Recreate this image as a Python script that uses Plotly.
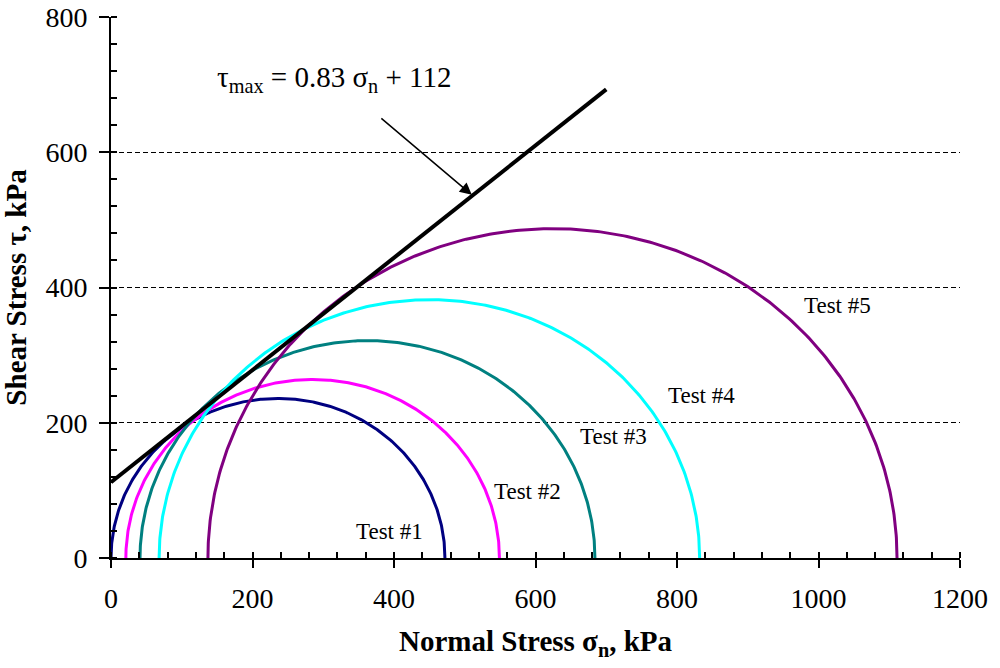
import numpy as np
import plotly.graph_objects as go

# Mohr circle data: minor and major principal stresses (kPa) for each test
tests = ["Test #1", "Test #2", "Test #3", "Test #4", "Test #5"]
sigma3 = [0, 21, 41, 68, 137]
sigma1 = [472, 549, 684, 832, 1111]
colors = ["#000080", "#FF00FF", "#008080", "#00FFFF", "#800080"]

# Failure envelope: tau_max = slope * sigma_n + intercept
slope = 0.83
intercept = 112
envelope_sigma = [0, 700]

FONT = "Liberation Serif, Times New Roman, serif"

fig = go.Figure()

theta = np.linspace(0, np.pi, 361)
for name, s3, s1, col in zip(tests, sigma3, sigma1, colors):
    c = (s1 + s3) / 2
    r = (s1 - s3) / 2
    fig.add_trace(go.Scatter(
        x=c + r * np.cos(theta), y=r * np.sin(theta),
        mode="lines", line=dict(color=col, width=3),
        name=name, showlegend=False, hoverinfo="skip",
    ))

env_x = np.array(envelope_sigma, dtype=float)
fig.add_trace(go.Scatter(
    x=env_x, y=slope * env_x + intercept,
    mode="lines", line=dict(color="black", width=4),
    showlegend=False, hoverinfo="skip",
))

# Circle labels
label_pos = [(394, 39), (589, 98), (710, 179), (834, 241), (1027, 374)]
for name, (lx, ly) in zip(tests, label_pos):
    fig.add_annotation(x=lx, y=ly, text=name, showarrow=False,
                       font=dict(family=FONT, size=23, color="black"),
                       xanchor="center", yanchor="middle")

# Envelope equation and pointer arrow
fig.add_annotation(
    x=147, y=709, xanchor="left", yanchor="middle", showarrow=False,
    text="τ<sub>max</sub> = 0.83 σ<sub>n</sub> + 112",
    font=dict(family=FONT, size=29, color="black"),
)
fig.add_annotation(
    x=510, y=537, ax=380, ay=652, axref="x", ayref="y", xref="x", yref="y",
    text="", showarrow=True, arrowhead=2, arrowsize=1.6, arrowwidth=1.5,
    arrowcolor="black",
)

tickfont = dict(family=FONT, size=28, color="black")

fig.update_layout(
    width=1000, height=668,
    margin=dict(l=111, r=40, t=17, b=110, autoexpand=False),
    paper_bgcolor="white", plot_bgcolor="white",
    font=dict(family=FONT, color="black"),
    showlegend=False,
    xaxis=dict(
        range=[0, 1200], dtick=200, tick0=0, automargin=False,
        ticks="outside", ticklen=8, tickwidth=2, tickcolor="black",
        showline=True, linewidth=2, linecolor="black",
        showgrid=False, zeroline=False,
        tickfont=tickfont, ticklabelstandoff=6,
        minor=dict(dtick=40, ticks="inside", ticklen=6, tickwidth=2,
                   tickcolor="black", showgrid=False),
        title=dict(text="<b>Normal Stress σ<sub>n</sub>, kPa</b>",
                   font=dict(family=FONT, size=29, color="black"),
                   standoff=18),
    ),
    xaxis2=dict(
        range=[0, 1200], dtick=200, tick0=0, overlaying="x", anchor="y",
        side="bottom", ticks="inside", ticklen=7, tickwidth=2,
        tickcolor="black", showticklabels=False, showgrid=False,
        zeroline=False, showline=False,
    ),
    yaxis=dict(
        range=[0, 800], dtick=200, tick0=0, automargin=False,
        ticks="outside", ticklen=10, tickwidth=2, tickcolor="black",
        showline=True, linewidth=2, linecolor="black",
        showgrid=True, gridcolor="black", gridwidth=1, griddash="5px,3px",
        zeroline=False,
        tickfont=tickfont, ticklabelstandoff=6,
        minor=dict(dtick=40, ticks="inside", ticklen=6, tickwidth=2,
                   tickcolor="black", showgrid=False),
        title=dict(text="<b>Shear Stress τ, kPa</b>",
                   font=dict(family=FONT, size=29, color="black"),
                   standoff=14),
    ),
    yaxis2=dict(
        range=[0, 800], overlaying="y", anchor="x", side="right",
        showline=True, linewidth=1.5, linecolor="black",
        ticks="", showticklabels=False, showgrid=False, zeroline=False,
    ),
)

fig.write_html("out.html")
